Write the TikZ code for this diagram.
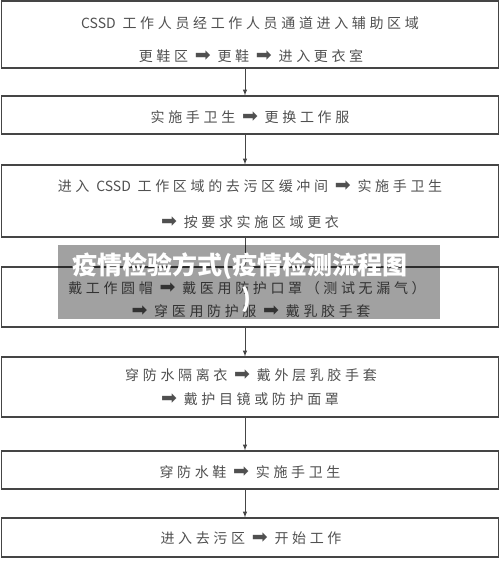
\documentclass[tikz,border=0pt]{standalone}
\usepackage{fontspec}
\usepackage{xcolor}
\setmainfont{Noto Sans CJK SC}
\newfontfamily\cjk{Noto Sans CJK SC}[LetterSpace=26]
\newfontfamily\latinfont{Noto Sans CJK SC}
\newfontfamily\titlefont{Noto Sans CJK SC}
\newfontfamily\symfont{DejaVu Sans}
\newcommand{\nxt}{{\symfont\fontsize{19}{19}\selectfont ➡}}
\newcommand{\cssd}{{\latinfont CSSD}}
\definecolor{boxline}{HTML}{454545}
\definecolor{boxtext}{HTML}{505050}

\begin{document}
\begin{tikzpicture}[x=1pt,y=-1pt,
    box/.style={draw=boxline, line width=1.2pt, minimum width=497pt, inner sep=0pt},
    steptext/.style={text=boxtext, font=\cjk\fontsize{14}{16}\selectfont, inner sep=0pt},
    link/.style={draw=boxline, line width=1pt, -latex},
    banner/.style={text=white, font=\titlefont\bfseries\fontsize{25}{33}\selectfont, align=center, inner sep=0pt}]
  \useasboundingbox (0,0) rectangle (500,565);
  % boxes
  \node[box, minimum height=67pt] (b1) at (250,34.5) {};
  \node[box, minimum height=38pt] (b2) at (250,115) {};
  \node[box, minimum height=72pt] (b3) at (250,201) {};
  \node[box, minimum height=60pt] (b4) at (250,297) {};
  \node[box, minimum height=60pt] (b5) at (250,387) {};
  \node[box, minimum height=38pt] (b6) at (250,470) {};
  \node[box, minimum height=39pt] (b7) at (250,537.5) {};
  % texts
  \node[steptext] (t1a) at (250,23) {\cssd{} 工作人员经工作人员通道进入辅助区域};
  \node[steptext] (t1b) at (251,56) {更鞋区 \nxt{} 更鞋 \nxt{} 进入更衣室};
  \node[steptext] (t2) at (250,117) {实施手卫生 \nxt{} 更换工作服};
  \node[steptext] (t3a) at (250,186) {进入 \cssd{} 工作区域的去污区缓冲间 \nxt{} 实施手卫生};
  \node[steptext] (t3b) at (250,222) {\nxt{} 按要求实施区域更衣};
  \node[steptext] (t4a) at (247,288) {戴工作圆帽 \nxt{} 戴医用防护口罩（测试无漏气）};
  \node[steptext] (t4b) at (251,311) {\nxt{} 穿医用防护服 \nxt{} 戴乳胶手套};
  \node[steptext] (t5a) at (251,375) {穿防水隔离衣 \nxt{} 戴外层乳胶手套};
  \node[steptext] (t5b) at (250,399) {\nxt{} 戴护目镜或防护面罩};
  \node[steptext] (t6) at (250,472) {穿防水鞋 \nxt{} 实施手卫生};
  \node[steptext] (t7) at (251,538) {进入去污区 \nxt{} 开始工作};
  % arrows
  \draw[link] ([xshift=-5pt]b1.south) -- ([xshift=-5pt]b2.north);
  \draw[link] ([xshift=-5pt]b2.south) -- ([xshift=-5pt]b3.north);
  \draw[link] ([xshift=-5pt]b3.south) -- ([xshift=-5pt]b4.north);
  \draw[link] ([xshift=-5pt]b4.south) -- ([xshift=-5pt]b5.north);
  \draw[link] ([xshift=-5pt]b5.south) -- ([xshift=-5pt]b6.north);
  \draw[link] ([xshift=-5pt]b6.south) -- ([xshift=-5pt]b7.north);
  % title banner
  \fill[black, fill opacity=0.37] (58,245) rectangle (440,319);
  \node[banner] (ttl) at (240,283) {疫情检验方式(疫情检测流程图\\\hspace*{12pt})};
\end{tikzpicture}
\end{document}
